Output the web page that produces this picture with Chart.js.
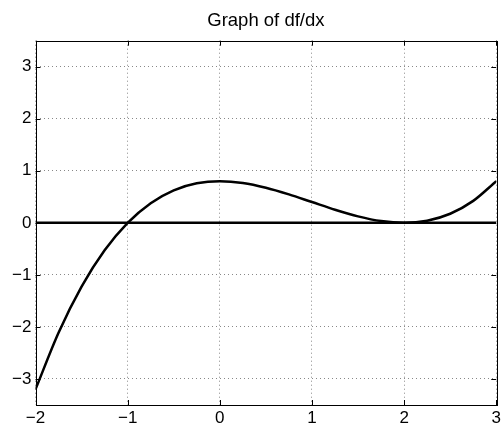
<!DOCTYPE html>
<html>
<head>
<meta charset="utf-8">
<script src="https://cdn.jsdelivr.net/npm/chart.js@4"></script>
<style>
  html, body { margin: 0; padding: 0; background: #fff; }
  #wrap { width: 504px; height: 431px; }
</style>
</head>
<body>
<div id="wrap"><canvas id="c" width="504" height="431"></canvas></div>
<script>
const xs = [-2, -1.75, -1.5, -1.25, -1, -0.75, -0.5, -0.25, 0, 0.25, 0.5, 0.75, 1, 1.25, 1.5, 1.75, 2, 2.25, 2.5, 2.75, 3];
const dfdx = [-3.2, -2.11, -1.225, -0.528, 0, 0.378, 0.625, 0.759, 0.8, 0.766, 0.675, 0.547, 0.4, 0.253, 0.125, 0.034, 0, 0.041, 0.175, 0.422, 0.8];
const zeroX = [-2, 3];
const zeroY = [0, 0];
const xTicks = [-2, -1, 0, 1, 2, 3];
const yTicks = [-3, -2, -1, 0, 1, 2, 3];
const titleText = 'Graph of df/dx';

const minus = v => String(v).replace('-', '\u2212');

// box around the axes + inward tick marks + title over the plot area, MATLAB style
const boxPlugin = {
    id: 'box',
    afterDatasetsDraw(chart) {
        const { ctx, chartArea: a, scales } = chart;
        ctx.save();
        ctx.strokeStyle = '#000';
        ctx.lineWidth = 1;
        ctx.beginPath();
        xTicks.forEach(t => {
            const px = Math.round(scales.x.getPixelForValue(t)) + 0.5;
            ctx.moveTo(px, a.bottom); ctx.lineTo(px, a.bottom - 5);
            ctx.moveTo(px, a.top); ctx.lineTo(px, a.top + 5);
        });
        yTicks.forEach(t => {
            const py = Math.round(scales.y.getPixelForValue(t)) + 0.5;
            ctx.moveTo(a.left, py); ctx.lineTo(a.left + 5, py);
            ctx.moveTo(a.right, py); ctx.lineTo(a.right - 5, py);
        });
        ctx.stroke();
        ctx.strokeRect(Math.round(a.left) + 0.5, Math.round(a.top) + 0.5,
            Math.round(a.right - a.left), Math.round(a.bottom - a.top));

        ctx.fillStyle = '#000';
        ctx.font = '18.5px "Liberation Sans", Arial, sans-serif';
        ctx.textAlign = 'center';
        ctx.textBaseline = 'alphabetic';
        ctx.fillText(titleText, (a.left + a.right) / 2, 26);
        ctx.restore();
    }
};

Chart.defaults.font.family = 'Liberation Sans, Arial, sans-serif';
Chart.defaults.color = '#000';

new Chart(document.getElementById('c'), {
    type: 'line',
    data: {
        datasets: [
            {
                data: zeroX.map((x, i) => ({ x, y: zeroY[i] })),
                borderColor: '#000', borderWidth: 2.5, pointRadius: 0
            },
            {
                data: xs.map((x, i) => ({ x, y: dfdx[i] })),
                borderColor: '#000', borderWidth: 2.5, pointRadius: 0,
                cubicInterpolationMode: 'monotone'
            }
        ]
    },
    options: {
        responsive: false,
        animation: false,
        layout: { padding: { left: 0, right: 5, top: 40.7, bottom: 0 } },
        plugins: {
            legend: { display: false },
            tooltip: { enabled: false },
            title: { display: false }
        },
        scales: {
            x: {
                type: 'linear', min: -2, max: 3,
                afterBuildTicks: s => { s.ticks = xTicks.map(v => ({ value: v })); },
                afterFit: s => { s.height = 26; },
                grid: { color: '#888', tickLength: 0, drawTicks: false },
                border: { display: false, dash: [1, 3] },
                ticks: { font: { size: 17 }, padding: 3, maxRotation: 0, callback: v => minus(v) }
            },
            y: {
                min: -3.5, max: 3.5,
                afterBuildTicks: s => { s.ticks = yTicks.map(v => ({ value: v })); },
                afterFit: s => { s.width = 35.5; },
                grid: { color: '#888', drawTicks: false },
                border: { display: false, dash: [1, 3] },
                ticks: { font: { size: 17 }, padding: 4, callback: v => minus(v) }
            }
        }
    },
    plugins: [boxPlugin]
});
</script>
</body>
</html>
